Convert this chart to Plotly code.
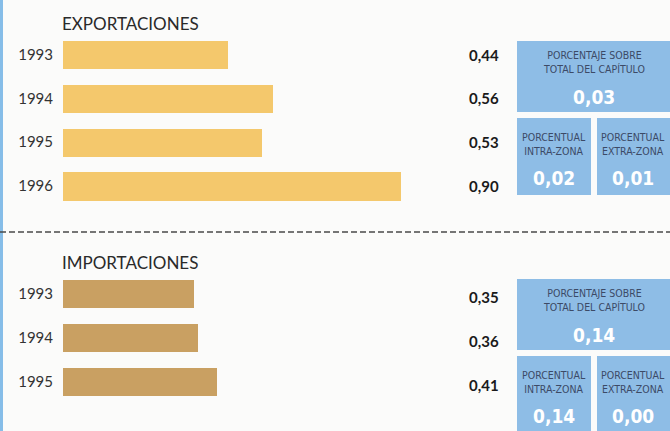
import plotly.graph_objects as go

W, H = 670, 431

export_years = ["1993", "1994", "1995", "1996"]
export_values = [0.44, 0.56, 0.53, 0.90]
import_years = ["1993", "1994", "1995"]
import_values = [0.35, 0.36, 0.41]

export_total_share = "0,03"
export_intra = "0,02"
export_extra = "0,01"
import_total_share = "0,14"
import_intra = "0,14"
import_extra = "0,00"

EXP_COLOR = "#F4C86C"
IMP_COLOR = "#C9A062"
BOX_COLOR = "#8EBDE6"
BG = "#FBFBFA"
MAIN_FONT = "Lato, 'Open Sans', sans-serif"
NARROW_FONT = "'Liberation Sans Narrow', 'DejaVu Sans Condensed', 'Arial Narrow', sans-serif"


def fx(px):
    return px / W


def fy(py):
    return 1 - py / H


def fmt(v):
    return f"{v:.2f}".replace(".", ",")


fig = go.Figure()

fig.add_trace(go.Bar(
    x=export_values, y=list(range(len(export_years))), orientation="h",
    marker=dict(color=EXP_COLOR, line=dict(width=0)), width=0.64,
    xaxis="x", yaxis="y", hoverinfo="skip", showlegend=False,
))
fig.add_trace(go.Bar(
    x=import_values, y=list(range(len(import_years))), orientation="h",
    marker=dict(color=IMP_COLOR, line=dict(width=0)), width=0.64,
    xaxis="x2", yaxis="y2", hoverinfo="skip", showlegend=False,
))

xr = [0, (W - 63) / 375]
axis_common = dict(showgrid=False, zeroline=False, showline=False, fixedrange=True)
fig.update_layout(
    width=W, height=H,
    margin=dict(l=0, r=0, t=0, b=0),
    paper_bgcolor=BG, plot_bgcolor="rgba(0,0,0,0)",
    xaxis=dict(domain=[fx(63), 1], range=xr, showticklabels=False, anchor="y", **axis_common),
    xaxis2=dict(domain=[fx(63), 1], range=xr, showticklabels=False, anchor="y2", **axis_common),
    yaxis=dict(domain=[fy(208), fy(32.6)], range=[3.5, -0.5],
               tickvals=list(range(len(export_years))), ticktext=export_years,
               ticklabelstandoff=9, anchor="x",
               tickfont=dict(family=MAIN_FONT, size=15, color="#333333"), **axis_common),
    yaxis2=dict(domain=[fy(404), fy(272)], range=[2.5, -0.5],
                tickvals=list(range(len(import_years))), ticktext=import_years,
                ticklabelstandoff=9, anchor="x2",
                tickfont=dict(family=MAIN_FONT, size=15, color="#333333"), **axis_common),
    bargap=0,
)

annotations = []
# Section titles
annotations.append(dict(text="EXPORTACIONES", x=fx(60), y=fy(23), xref="paper", yref="paper",
                        xanchor="left", yanchor="middle", showarrow=False,
                        font=dict(family=MAIN_FONT, size=17, color="#2a2a2a")))
annotations.append(dict(text="IMPORTACIONES", x=fx(60), y=fy(262), xref="paper", yref="paper",
                        xanchor="left", yanchor="middle", showarrow=False,
                        font=dict(family=MAIN_FONT, size=17, color="#2a2a2a")))

# Value labels
for i, v in enumerate(export_values):
    annotations.append(dict(text=f"<b>{fmt(v)}</b>", x=fx(501), y=i, xref="paper", yref="y",
                            xanchor="right", yanchor="middle", showarrow=False,
                            font=dict(family=MAIN_FONT, size=15, color="#1a1a1a")))
for i, v in enumerate(import_values):
    annotations.append(dict(text=f"<b>{fmt(v)}</b>", x=fx(501), y=i + 0.06, xref="paper", yref="y2",
                            xanchor="right", yanchor="middle", showarrow=False,
                            font=dict(family=MAIN_FONT, size=15, color="#1a1a1a")))

shapes = []
# left blue strip
shapes.append(dict(type="rect", xref="paper", yref="paper", x0=0, x1=fx(3), y0=0, y1=1,
                   fillcolor="#86BDE8", line=dict(width=0), layer="below"))
# dashed separator
shapes.append(dict(type="line", xref="paper", yref="paper", x0=0, x1=1, y0=fy(232), y1=fy(232),
                   line=dict(color="#4a4a4a", width=1.5, dash="6px,3px")))


def box_group(top, total, intra, extra, bottom_end):
    shapes.append(dict(type="rect", xref="paper", yref="paper", x0=fx(517), x1=1,
                       y0=fy(top + 71), y1=fy(top), fillcolor=BOX_COLOR, line=dict(width=0)))
    shapes.append(dict(type="rect", xref="paper", yref="paper", x0=fx(517), x1=fx(591),
                       y0=fy(bottom_end), y1=fy(top + 77), fillcolor=BOX_COLOR, line=dict(width=0)))
    shapes.append(dict(type="rect", xref="paper", yref="paper", x0=fx(597), x1=1,
                       y0=fy(bottom_end), y1=fy(top + 77), fillcolor=BOX_COLOR, line=dict(width=0)))
    lab_font = dict(family=NARROW_FONT, size=10.5, color="#3c4a66")
    val_font = dict(family=NARROW_FONT, size=19, color="#FFFFFF")
    annotations.append(dict(text="PORCENTAJE SOBRE<br>TOTAL DEL CAPÍTULO", x=fx(594), y=fy(top + 21),
                            xref="paper", yref="paper", xanchor="center", yanchor="middle",
                            showarrow=False, font=lab_font))
    annotations.append(dict(text=f"<b>{total}</b>", x=fx(594), y=fy(top + 56), xref="paper", yref="paper",
                            xanchor="center", yanchor="middle", showarrow=False, font=val_font))
    for cx, lab, val in [(554, "PORCENTUAL<br>INTRA-ZONA", intra), (633, "PORCENTUAL<br>EXTRA-ZONA", extra)]:
        annotations.append(dict(text=lab, x=fx(cx), y=fy(top + 103), xref="paper", yref="paper",
                                xanchor="center", yanchor="middle", showarrow=False, font=lab_font))
        annotations.append(dict(text=f"<b>{val}</b>", x=fx(cx), y=fy(top + 137), xref="paper", yref="paper",
                                xanchor="center", yanchor="middle", showarrow=False, font=val_font))


box_group(41, export_total_share, export_intra, export_extra, 195)
box_group(279, import_total_share, import_intra, import_extra, 431)

fig.update_layout(annotations=annotations, shapes=shapes)
fig.write_html("out.html")
